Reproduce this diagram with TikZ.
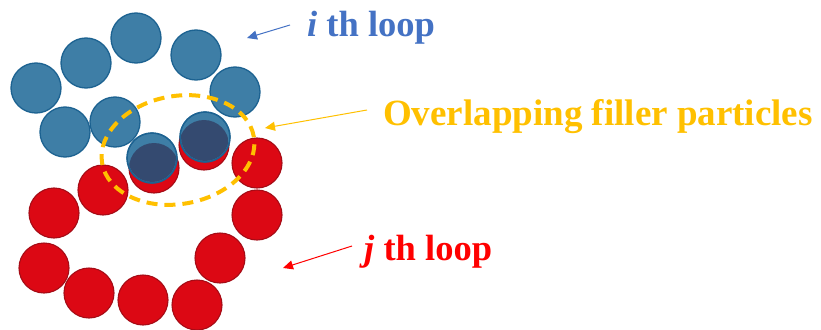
\documentclass[tikz,border=0pt]{standalone}
\usepackage{fontspec}
\setmainfont{Liberation Serif}
\usetikzlibrary{arrows.meta}
\definecolor{pblue}{RGB}{62,126,166}
\definecolor{pbluedk}{RGB}{28,98,145}
\definecolor{pred}{RGB}{220,8,20}
\definecolor{preddk}{RGB}{165,12,22}
\definecolor{pnavy}{RGB}{52,74,112}
\definecolor{tblue}{RGB}{68,114,196}
\definecolor{tyel}{RGB}{255,192,0}
\definecolor{tred}{RGB}{255,0,0}
\tikzset{
  bp/.style={circle,inner sep=0pt,minimum size=50pt,fill=pblue,draw=pbluedk,line width=1.3pt},
  rp/.style={circle,inner sep=0pt,minimum size=50pt,fill=pred,draw=preddk,line width=1.1pt},
  lbl/.style={font=\fontsize{36.5}{40}\selectfont\bfseries,anchor=base west,inner sep=0pt},
  arr/.style={-{Triangle[length=10pt,width=9pt]},line width=1pt}
}
\begin{document}
\begin{tikzpicture}[x=1pt,y=-1pt]
\useasboundingbox (0,0) rectangle (821,329);
% red loop
\node[rp] (r1) at (103,190) {};
\node[rp] (r2) at (54,213) {};
\node[rp] (r3) at (44,268) {};
\node[rp] (r4) at (89,293) {};
\node[rp] (r5) at (143,300) {};
\node[rp] (r6) at (197,305) {};
\node[rp] (r7) at (220,258) {};
\node[rp] (r8) at (257,215) {};
\node[rp] (r9) at (257,163) {};
\node[rp] (r10) at (204,145) {};
\node[rp] (r11) at (154,168) {};
% blue loop
\node[bp] (b1) at (36,88) {};
\node[bp] (b2) at (86,63) {};
\node[bp] (b3) at (136,38) {};
\node[bp] (b4) at (196,55) {};
\node[bp] (b5) at (235,92) {};
\node[bp] (b6) at (65,132) {};
\node[bp] (b7) at (115,122) {};
\node[bp] (b8) at (152,158) {};
\node[bp] (b9) at (205,137) {};
% overlap regions
\begin{scope}
\clip (r11.center) circle[radius=25pt];
\fill[pnavy] (b8.center) circle[radius=24pt];
\end{scope}
\begin{scope}
\clip (r10.center) circle[radius=25pt];
\fill[pnavy] (b9.center) circle[radius=24pt];
\end{scope}
\draw[pbluedk,line width=1.3pt] (b8.center) circle[radius=25pt];
\draw[pbluedk,line width=1.3pt] (b9.center) circle[radius=25pt];
% dashed ellipse
\draw[tyel,line width=4pt,dash pattern=on 11pt off 7pt,rotate around={10:(178,150)}] (178,150) ellipse[x radius=77pt,y radius=54pt];
% labels
\node[lbl,text=tblue] (ti) at (307,37) {\textit{i} th loop};
\node[lbl,text=tyel,font=\fontsize{37}{40}\selectfont\bfseries] (to) at (383,125) {Overlapping filler particles};
\node[lbl,text=tred] (tj) at (364,260) {\textit{j} th loop};
\coordinate (ai) at (247,38);
\coordinate (ao) at (265,128);
\coordinate (aj) at (283,268);
\draw[arr,tblue] (290,25) -- (ai);
\draw[arr,tyel] (367,110) -- (ao);
\draw[arr,tred] (352,246) -- (aj);
\end{tikzpicture}
\end{document}
